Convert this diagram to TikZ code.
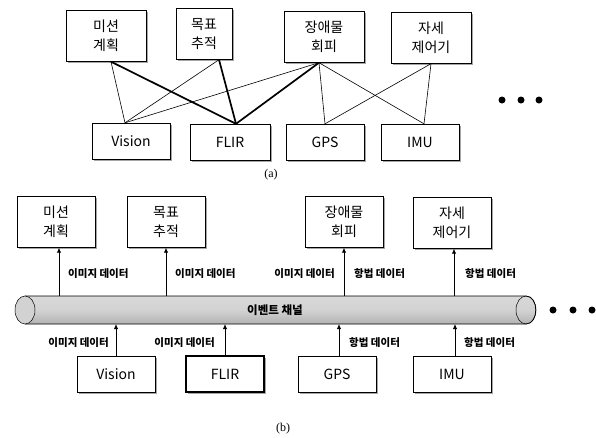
\documentclass[tikz,border=0pt]{standalone}
\usepackage{fontspec}
\setmainfont{Noto Sans CJK KR}
\newfontfamily\capfont{Liberation Serif}
\usetikzlibrary{arrows.meta, shadows}

\begin{document}
\begin{tikzpicture}[
    x=1pt, y=-1pt,
    box/.style={
      draw, fill=white,
      align=center,
      font=\fontsize{14}{19}\selectfont,
      inner sep=2pt,
      drop shadow={shadow xshift=1.8pt, shadow yshift=-1.8pt, fill=gray!70, opacity=1}
    },
    task/.style={box, minimum width=78pt, minimum height=51pt},
    sensor/.style={box, minimum width=78pt, minimum height=36pt},
    thinlink/.style={line width=0.6pt},
    thicklink/.style={line width=1.7pt},
    lab/.style={font=\bfseries\fontsize{10.5}{12}\selectfont, inner sep=1pt},
    flow/.style={-{Latex[length=5pt,width=4.5pt]}, line width=0.9pt},
    dot/.style={circle, fill, inner sep=0pt, minimum size=7pt},
    figcap/.style={font=\capfont\fontsize{12}{14}\selectfont}
]
  \useasboundingbox (0,0) rectangle (596,437);

  % (a) task boxes
  \node[task, minimum width=80pt] (mis1) at (106,36)  {미션\\계획};
  \node[task, minimum width=56pt] (trk1) at (204,34)  {목표\\추적};
  \node[task, minimum width=80pt] (obs1) at (324,37)  {장애물\\회피};
  \node[task, minimum width=80pt] (att1) at (431,38)  {자세\\제어기};

  % (a) sensor boxes
  \node[sensor] (vis1) at (131,141) {Vision};
  \node[sensor, minimum width=80pt] (flir1) at (230,142) {FLIR};
  \node[sensor] (gps1) at (325,142) {GPS};
  \node[sensor] (imu1) at (420,142) {IMU};

  % (a) direct links
  \draw[thinlink]  ([xshift=5pt]mis1.south)  -- ([xshift=-6pt]vis1.north);
  \draw[thicklink] ([xshift=5pt]mis1.south)  -- ([xshift=6pt]flir1.north);
  \draw[thinlink]  ([xshift=15pt]trk1.south) -- ([xshift=-6pt]vis1.north);
  \draw[thicklink] ([xshift=15pt]trk1.south) -- ([xshift=6pt]flir1.north);
  \draw[thinlink]  ([xshift=-5pt]obs1.south) -- ([xshift=-6pt]vis1.north);
  \draw[thicklink] ([xshift=-5pt]obs1.south) -- ([xshift=6pt]flir1.north);
  \draw[thinlink]  ([xshift=-5pt]obs1.south) -- (gps1.north);
  \draw[thinlink]  ([xshift=-5pt]obs1.south) -- ([xshift=4pt]imu1.north);
  \draw[thinlink]  (att1.south) -- (gps1.north);
  \draw[thinlink]  (att1.south) -- ([xshift=4pt]imu1.north);

  \node[dot] (d1) at (502,100) {};
  \node[dot] (d2) at (521,100) {};
  \node[dot] (d3) at (539,100) {};
  \node[figcap] (capa) at (271,175) {(a)};

  % (b) event channel
  \coordinate (ptop) at (0,296);
  \coordinate (pbot) at (0,324);
  \shade[top color=gray!30, bottom color=gray!60, middle color=gray!35]
    (25,296) -- (526,296) .. controls (539,296) and (539,324) .. (526,324)
    -- (25,324) .. controls (12,324) and (12,296) .. (25,296) -- cycle;
  \draw[line width=0.7pt]
    (25,296) -- (526,296) .. controls (539,296) and (539,324) .. (526,324)
    -- (25,324);
  \draw[line width=0.5pt, fill=gray!35] (25,310) ellipse [x radius=10, y radius=14];
  \draw[line width=0.5pt] (526,310) ellipse [x radius=10, y radius=14];
  \node[lab, font=\bfseries\fontsize{11.5}{13}\selectfont] (chan) at (275,310) {이벤트 채널};

  % (b) task boxes
  \node[task] (mis2) at (56,222)  {미션\\계획};
  \node[task] (trk2) at (166,222) {목표\\추적};
  \node[task] (obs2) at (344,222) {장애물\\회피};
  \node[task] (att2) at (452,223) {자세\\제어기};

  % (b) sensor boxes
  \node[sensor] (vis2) at (116,374) {Vision};
  \node[sensor, line width=2.6pt] (flir2) at (225,374) {FLIR};
  \node[sensor] (gps2) at (337,374) {GPS};
  \node[sensor] (imu2) at (452,374) {IMU};

  % (b) channel to tasks
  \draw[flow] ([xshift=3pt]mis2.south |- ptop) -- ([xshift=3pt]mis2.south);
  \draw[flow] (trk2.south |- ptop) -- (trk2.south);
  \draw[flow] (obs2.south |- ptop) -- (obs2.south);
  \draw[flow] ([xshift=2pt]att2.south |- ptop) -- ([xshift=2pt]att2.south);

  \node[lab, anchor=west] (l1) at (67,274)  {이미지 데이터};
  \node[lab, anchor=west] (l2) at (174,274) {이미지 데이터};
  \node[lab, anchor=east] (l3) at (336,274) {이미지 데이터};
  \node[lab, anchor=west] (l4) at (353,274) {항법 데이터};
  \node[lab, anchor=west] (l5) at (464,274) {항법 데이터};

  % (b) sensors to channel
  \draw[flow] (vis2.north)  -- (vis2.north |- pbot);
  \draw[flow] (flir2.north) -- (flir2.north |- pbot);
  \draw[flow] ([xshift=2pt]gps2.north) -- ([xshift=2pt]gps2.north |- pbot);
  \draw[flow] ([xshift=3pt]imu2.north) -- ([xshift=3pt]imu2.north |- pbot);

  \node[lab, anchor=east] (l6) at (110,343) {이미지 데이터};
  \node[lab, anchor=east] (l7) at (216,343) {이미지 데이터};
  \node[lab, anchor=west] (l8) at (348,343) {항법 데이터};
  \node[lab, anchor=west] (l9) at (463,343) {항법 데이터};

  \node[dot] (d4) at (553,310) {};
  \node[dot] (d5) at (573,310) {};
  \node[dot] (d6) at (592,310) {};
  \node[figcap] (capb) at (283,429) {(b)};
\end{tikzpicture}
\end{document}
